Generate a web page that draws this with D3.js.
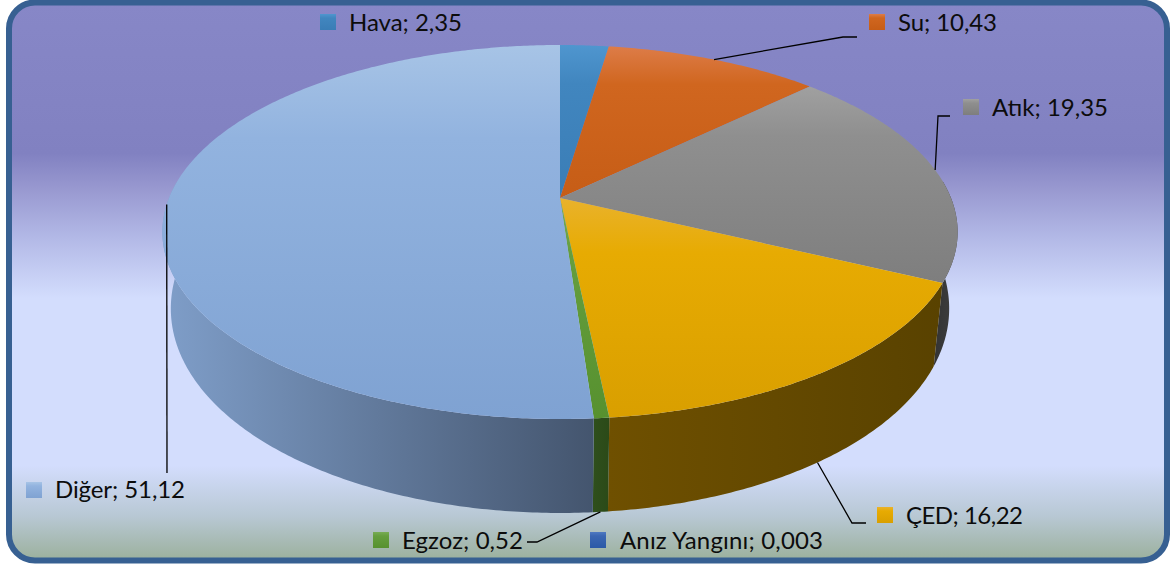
<!DOCTYPE html>
<html>
<head>
<meta charset="utf-8">
<script src="https://cdnjs.cloudflare.com/ajax/libs/d3/7.8.5/d3.min.js"></script>
<style>
  html, body { margin: 0; padding: 0; background: #fff; overflow: hidden; }
  svg { display: block; }
</style>
</head>
<body>
<svg id="chart"></svg>
<script>
const categories = ['Hava', 'Su', 'Atık', 'ÇED', 'Egzoz', 'Anız Yangını', 'Diğer'];
const values = [2.35, 10.43, 19.35, 16.22, 0.52, 0.003, 51.12];
const valueLabels = ['2,35', '10,43', '19,35', '16,22', '0,52', '0,003', '51,12'];

// top, middle and bottom colours of each slice, then left and right colours of its side wall
const topColors = [['#4f96cf', '#4186bf', '#3a7db6'], ['#dd7c48', '#d0661f', '#c65d16'], ['#a0a0a0', '#8f8f8f', '#7e7e7e'], ['#e9b22c', '#e7ab02', '#d99f00'],
                   ['#78ac55', '#659e3e', '#57912f'], ['#4f79c2', '#3b66b2', '#2b59a7'], ['#a7c4e6', '#92b3df', '#7fa2d2']];
const wallColors = [['#27506f', '#27506f'], ['#7a3a10', '#7a3a10'], ['#333333', '#3f3f3f'], ['#6f5000', '#594200'],
                    ['#2f4f1c', '#2b4a18'], ['#1c3560', '#1c3560'], ['#7f9ec9', '#44556e']];

// label box: marker corner, text start and text width; leader: elbow points after the slice anchor
const labelPos = [
  {mx: 320, my: 14, tx: 349, ty: 31, tw: 113},
  {mx: 869, my: 14, tx: 898, ty: 31, tw: 99},
  {mx: 963, my: 99, tx: 992, ty: 116, tw: 116},
  {mx: 877, my: 507, tx: 906, ty: 524, tw: 117},
  {mx: 373, my: 532, tx: 402, ty: 549, tw: 121},
  {mx: 590, my: 532, tx: 620, ty: 549, tw: 203},
  {mx: 26, my: 482, tx: 55, ty: 498, tw: 130}
];
const leaders = [
  null,
  {base: false, elbow: [[843, 37], [857, 37]]},
  {base: false, elbow: [[938, 116], [950, 116]]},
  {base: true, elbow: [[852, 523], [866, 523]]},
  {base: true, elbow: [[537, 542], [527, 542]]},
  null,
  {base: false, elbow: [[167, 473]]}
];

const svgWidth = 1173, svgHeight = 565;
const svg = d3.select('#chart').attr('width', svgWidth).attr('height', svgHeight);
const defs = svg.append('defs');

// background of the frame
const bg = defs.append('linearGradient').attr('id', 'bg').attr('x1', 0).attr('y1', 0).attr('x2', 0).attr('y2', 1);
[[0, '#8787c7'], [0.27, '#8181c1'], [0.33, '#9797cf'], [0.42, '#b2b8e6'], [0.53, '#d3ddfd'], [0.83, '#d3ddfd'], [0.92, '#b8c8d4'], [1, '#9bb09c']]
  .forEach(s => bg.append('stop').attr('offset', s[0]).attr('stop-color', s[1]));

svg.append('rect')
  .attr('x', 9).attr('y', 2.5).attr('width', 1158).attr('height', 558)
  .attr('rx', 26).attr('ry', 26)
  .attr('fill', 'url(#bg)').attr('stroke', '#376092').attr('stroke-width', 6);

topColors.forEach((c, i) => {
  const g = defs.append('linearGradient').attr('id', 'top' + i).attr('x1', 0).attr('y1', 0).attr('x2', 0).attr('y2', 1);
  g.append('stop').attr('offset', 0).attr('stop-color', c[0]);
  g.append('stop').attr('offset', 0.25).attr('stop-color', c[1]);
  g.append('stop').attr('offset', 1).attr('stop-color', c[2]);
});
wallColors.forEach((c, i) => {
  const g = defs.append('linearGradient').attr('id', 'wall' + i).attr('x1', 0).attr('y1', 0).attr('x2', 1).attr('y2', 0);
  g.append('stop').attr('offset', 0).attr('stop-color', c[0]);
  g.append('stop').attr('offset', 1).attr('stop-color', c[1]);
});

// perspective of the disc: the pie centre sits above the middle of the ellipse
const cx = 560, cy = 198, rx = 391, ry = 180.8, tilt = 0.1818;
const vanishY = 3900;
// only this part of the rim shows a side wall
const wallFrom = 0.47 * Math.PI, wallTo = 1.53 * Math.PI;

function topPoint(a) {
  const u = Math.sin(a), v = -Math.cos(a), w = 1 - tilt * v;
  return [cx + rx * u / w, cy + ry * v / w];
}
function basePoint(a) {
  const p = topPoint(a), v = -Math.cos(a), t = 0.98 - 0.007 * v;
  return [cx + (p[0] - cx) * t, vanishY - (vanishY - p[1]) * t];
}
function sampleAngles(a0, a1) {
  const n = Math.max(2, Math.ceil((a1 - a0) / 0.01));
  return d3.range(n + 1).map(i => a0 + (a1 - a0) * i / n);
}

const pie = d3.pie().sort(null).value(d => d);
const slices = pie(values);
const line = d3.line();

svg.append('g').selectAll('path')
  .data(slices.map((d, i) => ({a0: Math.max(d.startAngle, wallFrom), a1: Math.min(d.endAngle, wallTo), i: i})).filter(e => e.a1 > e.a0))
  .join('path')
  .attr('d', e => {
    const as = sampleAngles(e.a0, e.a1);
    return line(as.map(topPoint).concat(as.slice().reverse().map(basePoint))) + 'Z';
  })
  .attr('fill', e => 'url(#wall' + e.i + ')');

svg.append('g').selectAll('path')
  .data(slices)
  .join('path')
  .attr('d', d => line([[cx, cy]].concat(sampleAngles(d.startAngle, d.endAngle).map(topPoint))) + 'Z')
  .attr('fill', (d, i) => 'url(#top' + i + ')');

// leader lines start from the middle of their slice
svg.append('g').selectAll('path')
  .data(slices.map((d, i) => ({d: d, leader: leaders[i]})).filter(e => e.leader))
  .join('path')
  .attr('d', e => {
    const mid = (e.d.startAngle + e.d.endAngle) / 2;
    return line([(e.leader.base ? basePoint : topPoint)(mid)].concat(e.leader.elbow));
  })
  .attr('fill', 'none')
  .attr('stroke', '#000')
  .attr('stroke-width', 1.3);

const legend = svg.append('g').selectAll('g')
  .data(categories)
  .join('g');

legend.append('rect')
  .attr('x', (d, i) => labelPos[i].mx)
  .attr('y', (d, i) => labelPos[i].my)
  .attr('width', 16).attr('height', 16)
  .attr('fill', (d, i) => 'url(#top' + i + ')');

legend.append('text')
  .attr('x', (d, i) => labelPos[i].tx)
  .attr('y', (d, i) => labelPos[i].ty)
  .attr('textLength', (d, i) => labelPos[i].tw)
  .attr('font-family', 'Lato, "Open Sans", sans-serif')
  .attr('font-size', 24)
  .attr('fill', '#0c0c0c')
  .text((d, i) => d + '; ' + valueLabels[i]);
</script>
</body>
</html>
